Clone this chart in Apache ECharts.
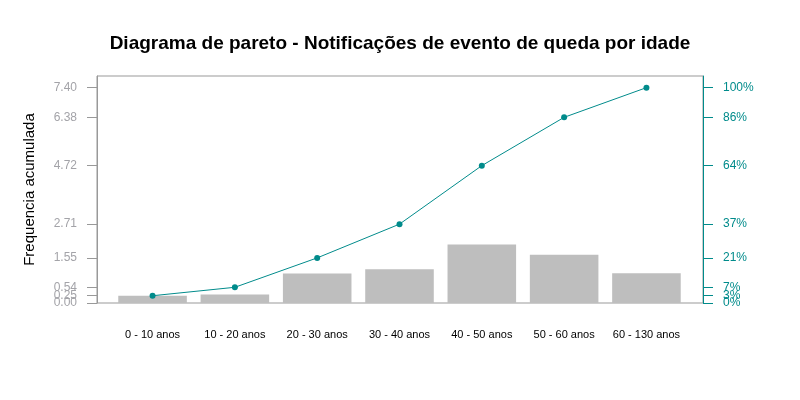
<!DOCTYPE html>
<html>
<head>
<meta charset="utf-8">
<script src="https://cdn.jsdelivr.net/npm/echarts@6/dist/echarts.min.js"></script>
<style>html,body{margin:0;padding:0;background:#fff}#c{width:800px;height:400px}</style>
</head>
<body>
<div id="c"></div>
<script>
var categories = ['0 - 10 anos','10 - 20 anos','20 - 30 anos','30 - 40 anos','40 - 50 anos','50 - 60 anos','60 - 130 anos'];
var frequencies = [0.25, 0.29, 1.01, 1.16, 2.01, 1.66, 1.02];
var cumulative = [0.25, 0.54, 1.55, 2.71, 4.72, 6.38, 7.40];
var leftTicks = [0, 0.25, 0.54, 1.55, 2.71, 4.72, 6.38, 7.40];
var rightTickLabels = ['0%','3%','7%','21%','37%','64%','86%','100%'];

var YMAX = 7.8;
var teal = '#008B8B';
var leftColor = '#A3A3A8';

function pctLabel(v){
  var best = 0, bd = Infinity;
  for (var i = 0; i < leftTicks.length; i++) { var d = Math.abs(leftTicks[i]-v); if (d < bd) { bd = d; best = i; } }
  return rightTickLabels[best];
}
function numLabel(v){ return v.toFixed(2); }

// split tick labels into groups so close labels never sit on the same axis (ECharts would hide them)
var groups = [[], [], []];
leftTicks.forEach(function(t, i){ groups[i % 3].push(t); });

function labelAxis(pos, values, color, fmt) {
  return {type: 'value', gridIndex: 0, min: 0, max: YMAX, position: pos,
    axisLine: {show: false}, axisTick: {show: false}, splitLine: {show: false},
    axisLabel: {customValues: values, margin: 20, showMinLabel: true, showMaxLabel: true, hideOverlap: false,
      fontFamily: 'Liberation Sans', fontSize: 12, color: color, formatter: fmt}};
}

var yAxes = [
  {type: 'value', gridIndex: 0, min: 0, max: YMAX, position: 'left',
   name: 'Frequencia acumulada', nameLocation: 'middle', nameGap: 60,
   nameTextStyle: {fontFamily: 'Liberation Sans', fontSize: 15, color: '#000'},
   axisLine: {show: true, lineStyle: {color: '#999'}},
   axisTick: {show: true, length: 10, customValues: leftTicks, lineStyle: {color: '#999'}},
   axisLabel: {show: false}, splitLine: {show: false}},
  {type: 'value', gridIndex: 0, min: 0, max: YMAX, position: 'right',
   axisLine: {show: true, lineStyle: {color: teal}},
   axisTick: {show: true, length: 10, customValues: leftTicks, lineStyle: {color: teal}},
   axisLabel: {show: false}, splitLine: {show: false}},
  {type: 'value', gridIndex: 1, min: 0, max: YMAX, show: false}
];
groups.forEach(function(g){
  yAxes.push(labelAxis('left', g, leftColor, numLabel));
  yAxes.push(labelAxis('right', g, teal, pctLabel));
});

var chart = echarts.init(document.getElementById('c'), null, {renderer:'canvas'});
chart.setOption({
  animation: false,
  title: {
    text: 'Diagrama de pareto - Notificações de evento de queda por idade',
    left: 'center', top: 29,
    textStyle: {fontFamily: 'Liberation Sans', fontSize: 19, fontWeight: 'bold', color: '#000'}
  },
  grid: [
    {left: 97, right: 97, top: 76, bottom: 97, show: true, borderColor: '#999', borderWidth: 1, backgroundColor: 'transparent'},
    {left: 111.4, right: 112.4, top: 76, bottom: 97}
  ],
  xAxis: [
    {type: 'value', gridIndex: 0, min: 0, max: 1, show: false},
    {type: 'category', gridIndex: 1, data: categories,
     axisLine: {show: false}, axisTick: {show: false},
     axisLabel: {margin: 26, fontFamily: 'Liberation Sans', fontSize: 11, color: '#000', interval: 0}}
  ],
  yAxis: yAxes,
  series: [
    {type: 'bar', xAxisIndex: 1, yAxisIndex: 2, data: frequencies, barWidth: '83.3%',
     itemStyle: {color: '#BEBEBE'}, silent: true},
    {type: 'line', xAxisIndex: 1, yAxisIndex: 2, data: cumulative,
     symbol: 'circle', symbolSize: 6, showSymbol: true,
     lineStyle: {color: teal, width: 1}, itemStyle: {color: teal}, silent: true}
  ]
});
</script>
</body>
</html>
